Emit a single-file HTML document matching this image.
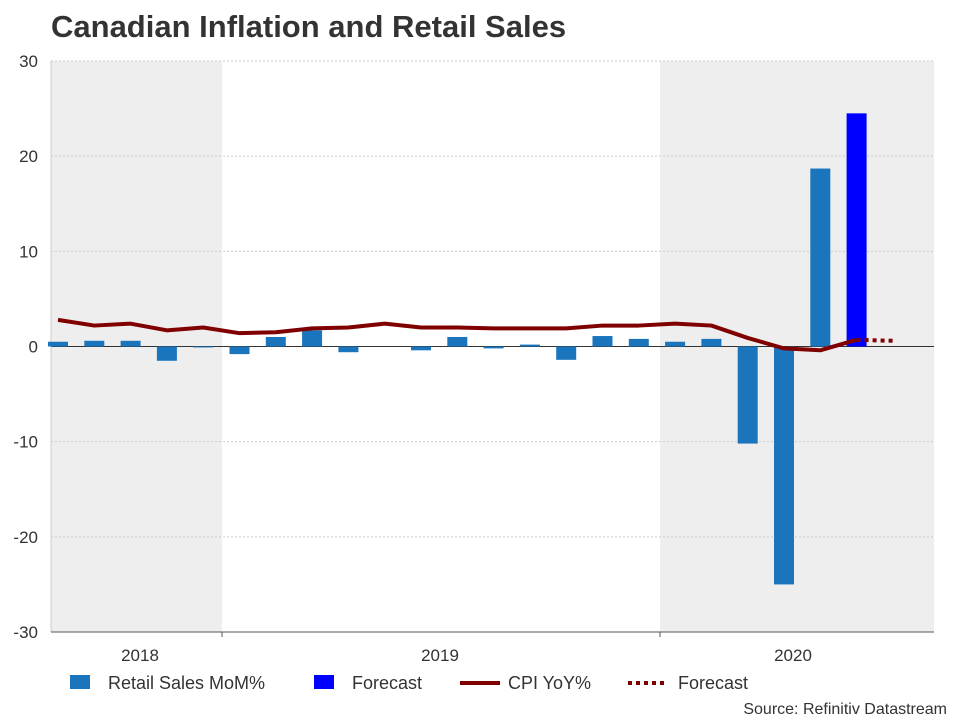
<!DOCTYPE html>
<html><head><meta charset="utf-8"><style>
body{margin:0;background:#fff;font-family:"Liberation Sans",sans-serif}
</style></head><body>
<svg width="960" height="720" xmlns="http://www.w3.org/2000/svg" id="chart">
<text x="51" y="37" font-size="31" font-weight="bold" fill="#333">Canadian Inflation and Retail Sales</text>
<g id="plot"></g>
</svg>
<script>
const yTicks=[30,20,10,0,-10,-20,-30];
const retail=[0.5,0.6,0.6,-1.5,-0.1,-0.8,1.0,1.7,-0.6,0.0,-0.4,1.0,-0.2,0.2,-1.4,1.1,0.8,0.5,0.8,-10.2,-25.0,18.7];
const retailForecast=[24.5];
const cpi=[2.8,2.2,2.4,1.7,2.0,1.4,1.5,1.9,2.0,2.4,2.0,2.0,1.9,1.9,1.9,2.2,2.2,2.4,2.2,0.9,-0.2,-0.4,0.7];
const cpiForecast=[0.7,0.6];
const years=["2018","2019","2020"];
const NS="http://www.w3.org/2000/svg";
const g=document.getElementById('plot');
const L=51,R=934,T=61,B=632;
const y=v=>T+(30-v)*(B-T)/60;
const x=i=>58+i*36.3;
function el(t,a,p){const e=document.createElementNS(NS,t);for(const k in a)e.setAttribute(k,a[k]);(p||g).appendChild(e);return e;}
let r=el('rect',{x:L,y:T,width:222-L,height:B-T,fill:'#eeeeee'});


r=el('rect',{x:660,y:T,width:R-660,height:B-T,fill:'#eeeeee'});


yTicks.forEach(v=>{
 const ln=el('line',{x1:L,x2:R,y1:y(v),y2:y(v),stroke:v===0?'#333':'#ccc','stroke-width':1,'stroke-dasharray':v===0?'':'2,2'});
 
 
 const t=el('text',{x:38,y:y(v)+6,'text-anchor':'end','font-size':17,fill:'#333'});
 t.textContent=v;
 
 
});
el('line',{x1:L,x2:L,y1:T,y2:B,stroke:'#ccc'});
el('line',{x1:L,x2:R,y1:B,y2:B,stroke:'#555'});
[222,660].forEach(px=>el('line',{x1:px,x2:px,y1:B,y2:B+5,stroke:'#555'}));
const yx=[140,440,793];
years.forEach((s,i)=>{const t=el('text',{x:yx[i],y:661,'text-anchor':'middle','font-size':17,fill:'#333'});t.textContent=s;
 
 });
function bar(i,v,c,name){const b=el('rect',{x:x(i)-10,y:Math.min(y(v),y(0)),width:20,height:Math.abs(y(v)-y(0)),fill:c});
 
 }
retail.forEach((v,i)=>bar(i,v,'#1a75bc','retail-bar'));
retailForecast.forEach((v,j)=>bar(retail.length+j,v,'#0000ff','forecast-bar'));
let p=el('polyline',{points:cpi.map((v,i)=>x(i)+','+y(v)).join(' '),fill:'none',stroke:'#800000','stroke-width':4,'stroke-linejoin':'round'});


const s0=cpi.length-1;
p=el('polyline',{points:cpiForecast.map((v,j)=>x(s0+j)+','+y(v)).join(' '),fill:'none',stroke:'#800000','stroke-width':4,'stroke-dasharray':'4,4'});


function leg(ix,label,draw,name){const gg=el('g',{});draw(gg);const t=el('text',{x:ix,y:689,'font-size':18,fill:'#333'},gg);t.textContent=label;}
leg(108,'Retail Sales MoM%',gg=>el('rect',{x:70,y:675,width:20,height:14,fill:'#1a75bc'},gg),'legend-retail');
leg(352,'Forecast',gg=>el('rect',{x:314,y:675,width:20,height:14,fill:'#0000ff'},gg),'legend-forecast-bar');
leg(508,'CPI YoY%',gg=>el('line',{x1:460,x2:500,y1:683,y2:683,stroke:'#800000','stroke-width':4},gg),'legend-cpi');
leg(678,'Forecast',gg=>el('line',{x1:628,x2:668,y1:683,y2:683,stroke:'#800000','stroke-width':4,'stroke-dasharray':'4,4'},gg),'legend-cpi-forecast');
const src=el('text',{x:947,y:714,'text-anchor':'end','font-size':16,fill:'#333'});
src.textContent='Source: Refinitiv Datastream';


</script>
</body></html>
